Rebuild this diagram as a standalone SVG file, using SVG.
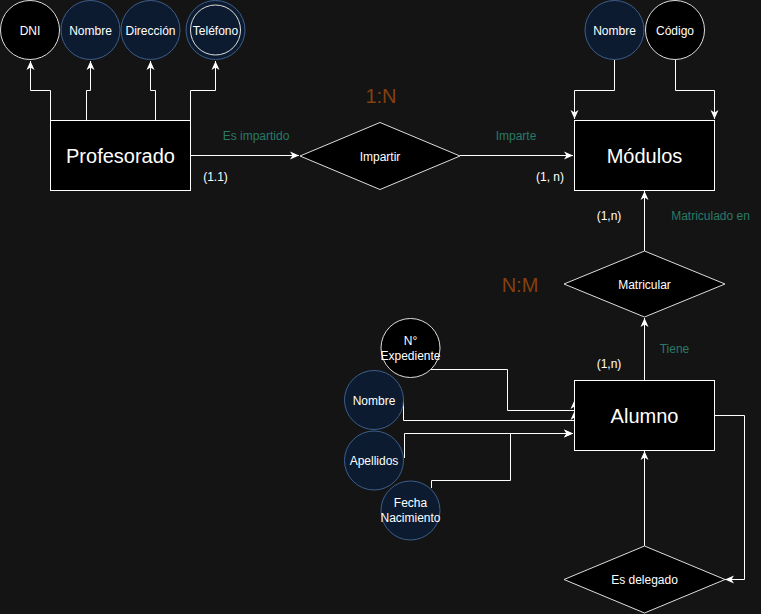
<svg xmlns="http://www.w3.org/2000/svg" width="761" height="614" viewBox="0 0 761 614">
<defs>
<marker id="arr" viewBox="-10 -5 11 10" refX="0" refY="0" markerWidth="11" markerHeight="10" markerUnits="userSpaceOnUse" orient="auto">
<path d="M-9,-4 L0,0 L-9,4 L-6.5,0 Z" fill="#ffffff"/>
</marker>
</defs>
<style>
text{font-family:"Liberation Sans",Arial,sans-serif;fill:#ffffff;text-anchor:middle}
.ent{fill:#000000;stroke:#ffffff;stroke-width:1}
.rel{fill:#000000;stroke:#dddddd;stroke-width:1}
.attrK{fill:#000000;stroke:#dddddd;stroke-width:1}
.attr{fill:#0c1b2f;stroke:#3c5e8e;stroke-width:1}
.big{font-size:20px}
.s{font-size:12px}
.lbl{font-size:12px;fill:#2a7a68}
.card{font-size:20px;fill:#84400e}
.e{fill:none;stroke:#ffffff;stroke-width:1;marker-end:url(#arr)}
</style>
<rect width="761" height="614" fill="#141414"/>
<g id="connectors">
<path class="e" d="M50.5 120 V90.5 H30.5 V61"/>
<path class="e" d="M86.5 120 V90.5 H90.5 V61"/>
<path class="e" d="M155.5 120 V90.5 H150.5 V61"/>
<path class="e" d="M190.5 120 V90.5 H215.5 V61"/>
<path class="e" d="M190 155.5 H299"/>
<path class="e" d="M460 155.5 H573"/>
<path class="e" d="M614.5 60 V90.5 H574.5 V119"/>
<path class="e" d="M675.5 60 V90.5 H714.5 V119"/>
<path class="e" d="M644.5 251 V191"/>
<path class="e" d="M644.5 380 V318"/>
<path class="e" d="M644.5 546 V451"/>
<path class="e" d="M714 415.5 H744.5 V579.5 H725"/>
<path class="e" d="M431 369.5 H507.5 V410.5 H574.5 V400"/>
<path class="e" d="M403.5 400 V420.5 H574.5 V411"/>
<path class="e" d="M404.5 458 V433.5 H573"/>
<path class="e" d="M431.5 488 V480.5 H510.5 V433.5 H573"/>
</g>
<g id="profesorado"><rect class="ent" x="50.5" y="120.5" width="140" height="70"/><text class="big" x="120.5" y="162.5">Profesorado</text></g>
<g id="dni"><circle class="attrK" cx="30" cy="30" r="29.5"/><text class="s" x="30" y="34.5">DNI</text></g>
<g id="nombre-prof"><circle class="attr" cx="90.5" cy="30" r="29.5"/><text class="s" x="90.5" y="34.5">Nombre</text></g>
<g id="direccion"><circle class="attr" cx="150.5" cy="30" r="29.5"/><text class="s" x="150.5" y="34.5">Dirección</text></g>
<g id="telefono"><circle class="attr" cx="215.5" cy="30" r="29.5"/><circle cx="215.5" cy="30" r="25" fill="none" stroke="#dddddd"/><text class="s" x="215.5" y="34.5">Teléfono</text></g>
<g id="impartir"><polygon class="rel" points="300,156 380,122.5 460,156 380,189.5"/><text class="s" x="380" y="160.5">Impartir</text></g>
<g id="modulos"><rect class="ent" x="574.5" y="120.5" width="140" height="70"/><text class="big" x="644.5" y="162.5">Módulos</text></g>
<g id="nombre-mod"><circle class="attr" cx="614.5" cy="30" r="29.5"/><text class="s" x="614.5" y="34.5">Nombre</text></g>
<g id="codigo"><circle class="attrK" cx="675" cy="30" r="29.5"/><text class="s" x="675" y="34.5">Código</text></g>
<g id="matricular"><polygon class="rel" points="564,284 644.5,251 725,284 644.5,317"/><text class="s" x="644.5" y="288.5">Matricular</text></g>
<g id="alumno"><rect class="ent" x="574.5" y="380.5" width="140" height="70"/><text class="big" x="644.5" y="422.5">Alumno</text></g>
<g id="es-delegado"><polygon class="rel" points="564,579.5 644.5,546 725,579.5 644.5,613"/><text class="s" x="644.5" y="584">Es delegado</text></g>
<g id="n-expediente"><circle class="attrK" cx="410.5" cy="348" r="29.5"/><text class="s" x="410.5" y="345">N°</text><text class="s" x="410.5" y="359.5">Expediente</text></g>
<g id="nombre-alu"><circle class="attr" cx="374" cy="400" r="29.5"/><text class="s" x="374" y="404.5">Nombre</text></g>
<g id="apellidos"><circle class="attr" cx="374" cy="460.5" r="29.5"/><text class="s" x="374" y="465">Apellidos</text></g>
<g id="fecha-nac"><circle class="attr" cx="410.5" cy="510.5" r="29.5"/><text class="s" x="410.5" y="507">Fecha</text><text class="s" x="410.5" y="521.5">Nacimiento</text></g>
<g id="labels">
<text class="card" x="381" y="103">1:N</text>
<text class="lbl" x="256" y="139.5">Es impartido</text>
<text class="lbl" x="516" y="139.5">Imparte</text>
<text class="s" x="215.5" y="181">(1.1)</text>
<text class="s" x="550" y="181">(1, n)</text>
<text class="s" x="609" y="220">(1,n)</text>
<text class="lbl" x="710.5" y="220">Matriculado en</text>
<text class="card" x="520" y="292">N:M</text>
<text class="lbl" x="674.5" y="353">Tiene</text>
<text class="s" x="609" y="368">(1,n)</text>
</g>
</svg>
